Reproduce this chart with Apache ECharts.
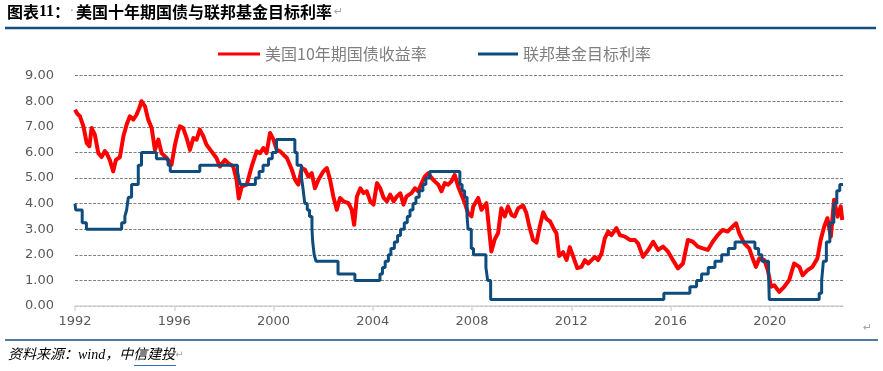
<!DOCTYPE html>
<html><head><meta charset="utf-8">
<script src="https://cdn.jsdelivr.net/npm/echarts@6/dist/echarts.min.js"></script>
<style>html,body{margin:0;padding:0;background:#fff}#c{width:883px;height:371px}</style>
</head><body><div id="c"></div>
<script>
// ---- text ----
const titleMain = '美国十年期国债与联邦基金目标利率';
const sourceText = '资料来源：wind，中信建投';
const seriesNames = ['美国10年期国债收益率', '联邦基金目标利率'];

// ---- axes ----
const xTickYears = [1992, 1996, 2000, 2004, 2008, 2012, 2016, 2020];
const xStart = 1992, xEnd = 2022.95;
const yMin = 0, yMax = 9, yStep = 1;

// ---- 美国10年期国债收益率 (decimal year, %) ----
const tenYearDates = [
 1992.00,1992.10,1992.20,1992.34,1992.47,1992.58,1992.67,1992.80,1992.94,1993.07,1993.20,1993.27,1993.40,1993.54,1993.65,1993.81,1993.95,
 1994.08,1994.21,1994.35,1994.48,1994.60,1994.68,1994.82,1994.95,1995.09,1995.22,1995.36,1995.49,1995.69,1995.89,
 1996.03,1996.15,1996.23,1996.36,1996.50,1996.63,1996.77,1996.90,1997.03,1997.17,1997.30,1997.50,1997.70,1997.84,
 1998.04,1998.17,1998.38,1998.51,1998.60,1998.72,1998.92,1999.12,1999.32,1999.46,1999.59,1999.72,1999.86,
 2000.00,2000.13,2000.27,2000.40,2000.54,2000.74,2000.87,2001.00,2001.14,2001.27,2001.40,2001.54,2001.67,2001.81,
 2002.01,2002.15,2002.28,2002.41,2002.55,2002.68,2002.82,2003.02,2003.15,2003.25,2003.36,2003.50,2003.63,2003.76,2003.90,
 2004.03,2004.17,2004.30,2004.44,2004.57,2004.70,2004.84,2004.97,2005.11,2005.24,2005.36,2005.56,2005.70,2005.83,2005.97,
 2006.10,2006.24,2006.37,2006.50,2006.64,2006.77,2006.90,2007.04,2007.17,2007.30,2007.44,2007.57,2007.71,2007.84,2007.98,
 2008.05,2008.25,2008.38,2008.58,2008.69,2008.78,2008.91,2009.05,2009.18,2009.32,2009.45,2009.59,2009.72,2009.86,
 2010.06,2010.19,2010.30,2010.46,2010.60,2010.73,2010.87,2011.00,2011.15,2011.30,2011.40,2011.51,2011.67,2011.81,2011.94,
 2012.08,2012.24,2012.41,2012.55,2012.68,2012.82,2012.95,2013.08,2013.22,2013.35,2013.49,2013.62,2013.82,2013.96,
 2014.16,2014.36,2014.56,2014.69,2014.89,2015.10,2015.30,2015.50,2015.70,2015.90,
 2016.10,2016.30,2016.50,2016.70,2016.90,2017.10,2017.30,2017.50,2017.70,2017.90,
 2018.10,2018.30,2018.50,2018.64,2018.77,2018.97,2019.17,2019.31,2019.44,2019.58,2019.78,2019.92,
 2020.05,2020.18,2020.38,2020.58,2020.78,2020.98,2021.19,2021.32,2021.52,2021.72,2021.92,
 2022.05,2022.19,2022.32,2022.46,2022.59,2022.73,2022.86,2022.92
];
const tenYearYield = [
 7.67,7.50,7.41,7.02,6.37,6.24,6.95,6.69,5.97,5.82,6.05,5.97,5.71,5.26,5.71,5.82,6.63,
 7.08,7.41,7.28,7.47,7.75,8.00,7.80,7.28,6.95,6.10,6.50,5.97,5.78,5.52,
 6.30,6.80,7.02,6.95,6.56,6.10,6.56,6.50,6.89,6.63,6.30,6.04,5.78,5.45,
 5.71,5.58,5.45,4.93,4.20,4.67,4.74,5.45,6.04,5.97,6.17,5.97,6.76,
 6.50,6.10,6.04,5.91,5.78,5.32,4.93,4.74,5.39,5.32,5.06,5.19,4.60,4.93,
 5.26,5.39,4.93,4.28,3.76,4.22,4.09,4.02,3.76,3.17,4.28,4.60,4.41,4.48,4.09,
 3.96,4.80,4.60,4.22,4.09,4.35,4.09,4.28,4.40,3.96,4.28,4.41,4.60,4.48,4.80,
 5.06,5.19,5.00,4.87,4.74,4.48,4.80,4.74,4.87,5.12,4.67,4.35,4.02,3.63,3.50,
 3.89,4.22,3.76,4.02,2.98,2.13,2.59,2.85,3.82,3.50,3.89,3.56,3.50,3.82,
 3.92,3.63,3.15,2.58,2.48,3.10,3.66,3.40,3.30,3.00,2.85,1.95,2.10,1.80,2.30,
 1.93,1.48,1.53,1.79,1.66,1.79,1.92,1.79,2.05,2.64,2.91,2.77,3.04,2.77,
 2.71,2.58,2.58,2.45,1.92,2.19,2.51,2.19,2.32,2.12,
 1.79,1.47,1.66,2.58,2.51,2.32,2.25,2.19,2.51,2.77,
 2.97,2.91,3.10,3.23,2.84,2.45,2.25,1.86,1.53,1.86,1.79,1.40,
 0.75,0.81,0.55,0.75,1.01,1.66,1.53,1.20,1.40,1.53,1.86,
 2.58,3.10,3.43,2.71,4.15,3.49,3.89,3.36
];

// ---- 联邦基金目标利率 (decimal year of change, new rate %) ----
const fedDates = [
 1992.00,1992.03,1992.29,1992.46,1993.88,1994.01,1994.08,1994.15,1994.28,1994.55,1994.68,1995.28,1995.75,1995.84,
 1997.03,1998.55,1998.60,1998.66,1999.27,1999.42,1999.58,1999.80,1999.95,2000.12,
 2000.86,2000.95,2001.13,2001.20,2001.26,2001.36,2001.45,2001.55,2001.58,2001.64,2001.71,2002.60,2003.28,
 2004.29,2004.39,2004.50,2004.63,2004.73,2004.87,2005.00,2005.12,2005.27,2005.39,2005.50,2005.62,2005.74,2005.87,
 2006.02,2006.14,2006.30,2007.51,2007.60,2007.70,2007.80,2007.84,2007.97,2008.06,2008.56,2008.63,2008.75,
 2015.73,2016.78,2017.05,2017.25,2017.52,2017.79,2018.06,2018.33,2018.60,2019.40,2019.55,2019.68,2019.95,2019.98,
 2021.99,2022.09,2022.16,2022.28,2022.42,2022.58,2022.70,2022.82,2022.95
];
const fedRate = [
 4.00,3.75,3.25,3.00,3.25,3.50,3.75,4.25,4.75,5.50,6.00,5.75,5.50,5.25,
 5.50,5.25,5.00,4.75,5.00,5.25,5.50,5.75,6.00,6.50,
 6.00,5.50,5.00,4.50,4.00,3.75,3.50,3.00,2.50,2.00,1.75,1.25,1.00,
 1.25,1.50,1.75,2.00,2.25,2.50,2.75,3.00,3.25,3.50,3.75,4.00,4.25,4.50,
 4.75,5.00,5.25,4.75,4.50,4.25,3.50,3.00,2.25,2.00,1.50,1.00,0.25,
 0.50,0.75,1.00,1.25,1.50,1.75,2.00,2.25,2.50,2.25,2.00,1.75,1.25,0.25,
 0.50,1.00,1.75,2.50,3.25,4.00,4.50,4.75,4.75
];

// ---- colours ----
const RED = '#FF0000', BLUE = '#0F4C7E', RULE = '#15507F';

const tenYearData = tenYearDates.map((d, i) => [d, tenYearYield[i]]);
const fedData = fedDates.map((d, i) => [d, fedRate[i]]);

const chart = echarts.init(document.getElementById('c'), null, { renderer: 'canvas' });
const labelFont = "'DejaVu Sans', 'Liberation Sans', sans-serif";
const cjkFont = "'Noto Sans CJK SC', sans-serif";

chart.setOption({
  animation: false,
  backgroundColor: '#fff',
  grid: { left: 75, right: 40, top: 75.6, bottom: 65, containLabel: false },
  legend: [
    { data: [seriesNames[0]], left: 213, top: 41, icon: 'rect', itemWidth: 42, itemHeight: 3,
      textStyle: { color: '#7f7f7f', fontSize: 16, fontFamily: cjkFont } },
    { data: [seriesNames[1]], left: 473, top: 41, icon: 'rect', itemWidth: 40, itemHeight: 3,
      textStyle: { color: '#7f7f7f', fontSize: 16, fontFamily: cjkFont } }
  ],
  xAxis: {
    type: 'value', min: xStart, max: xEnd,
    axisLine: { show: true, lineStyle: { color: '#d9d9d9', width: 1.5 } },
    axisTick: { show: true, length: 5, customValues: xTickYears, lineStyle: { color: '#d9d9d9', width: 1.5 } },
    axisLabel: { customValues: xTickYears, formatter: v => String(Math.round(v)),
      color: '#595959', fontSize: 13, fontFamily: labelFont, margin: 9 },
    splitLine: { show: false }
  },
  yAxis: {
    type: 'value', min: yMin, max: yMax, interval: yStep,
    axisLine: { show: false }, axisTick: { show: false },
    axisLabel: { formatter: v => v.toFixed(2), color: '#595959', fontSize: 13, fontFamily: labelFont, margin: 21 },
    splitLine: { show: true, lineStyle: { color: '#7f7f7f', width: 1, type: [3, 1.5] } }
  },
  series: [
    { name: seriesNames[0], type: 'line', data: tenYearData, showSymbol: false, symbol: 'none',
      lineStyle: { color: RED, width: 4, join: 'round' }, itemStyle: { color: RED }, z: 2 },
    { name: seriesNames[1], type: 'line', data: fedData, step: 'end', showSymbol: false, symbol: 'none',
      lineStyle: { color: BLUE, width: 3 }, itemStyle: { color: BLUE }, z: 3 }
  ],
  graphic: [
    { type: 'text', left: 7, top: 4, style: {
        text: '{b|图表}{n|11}{b|：}{d|·}{b|' + titleMain + '}{m|↵}',
        rich: {
          b: { fontSize: 16, fontWeight: 'bold', fontFamily: cjkFont, fill: '#000' },
          n: { fontSize: 16, fontWeight: 'bold', fontFamily: "'Liberation Serif', serif", fill: '#000' },
          d: { fontSize: 12, fontFamily: labelFont, fill: '#888', padding: [0, 2, 0, 0] },
          m: { fontSize: 11, fontFamily: labelFont, fill: '#a6a6a6', padding: [0, 0, 0, 2] }
        } } },
    { type: 'rect', shape: { x: 5, y: 26.8, width: 871, height: 2.4 }, style: { fill: RULE } },
    { type: 'text', left: 863, top: 323, style: { text: '↵', fontSize: 11, fontFamily: labelFont, fill: '#a6a6a6' } },
    { type: 'rect', shape: { x: 5, y: 339.2, width: 873, height: 1.6 }, style: { fill: RULE } },
    { type: 'text', left: 8, top: 348, style: {
        text: '{s|' + sourceText + '}{m|↵}',
        rich: {
          s: { fontSize: 14, fontStyle: 'italic', fontFamily: "'Liberation Serif', 'Noto Sans CJK SC', serif", fill: '#000' },
          m: { fontSize: 10, fontFamily: labelFont, fill: '#a6a6a6' }
        } } },
    { type: 'rect', shape: { x: 134, y: 365, width: 42, height: 1 }, style: { fill: '#2F6EBA' } }
  ]
});
</script>
</body></html>
